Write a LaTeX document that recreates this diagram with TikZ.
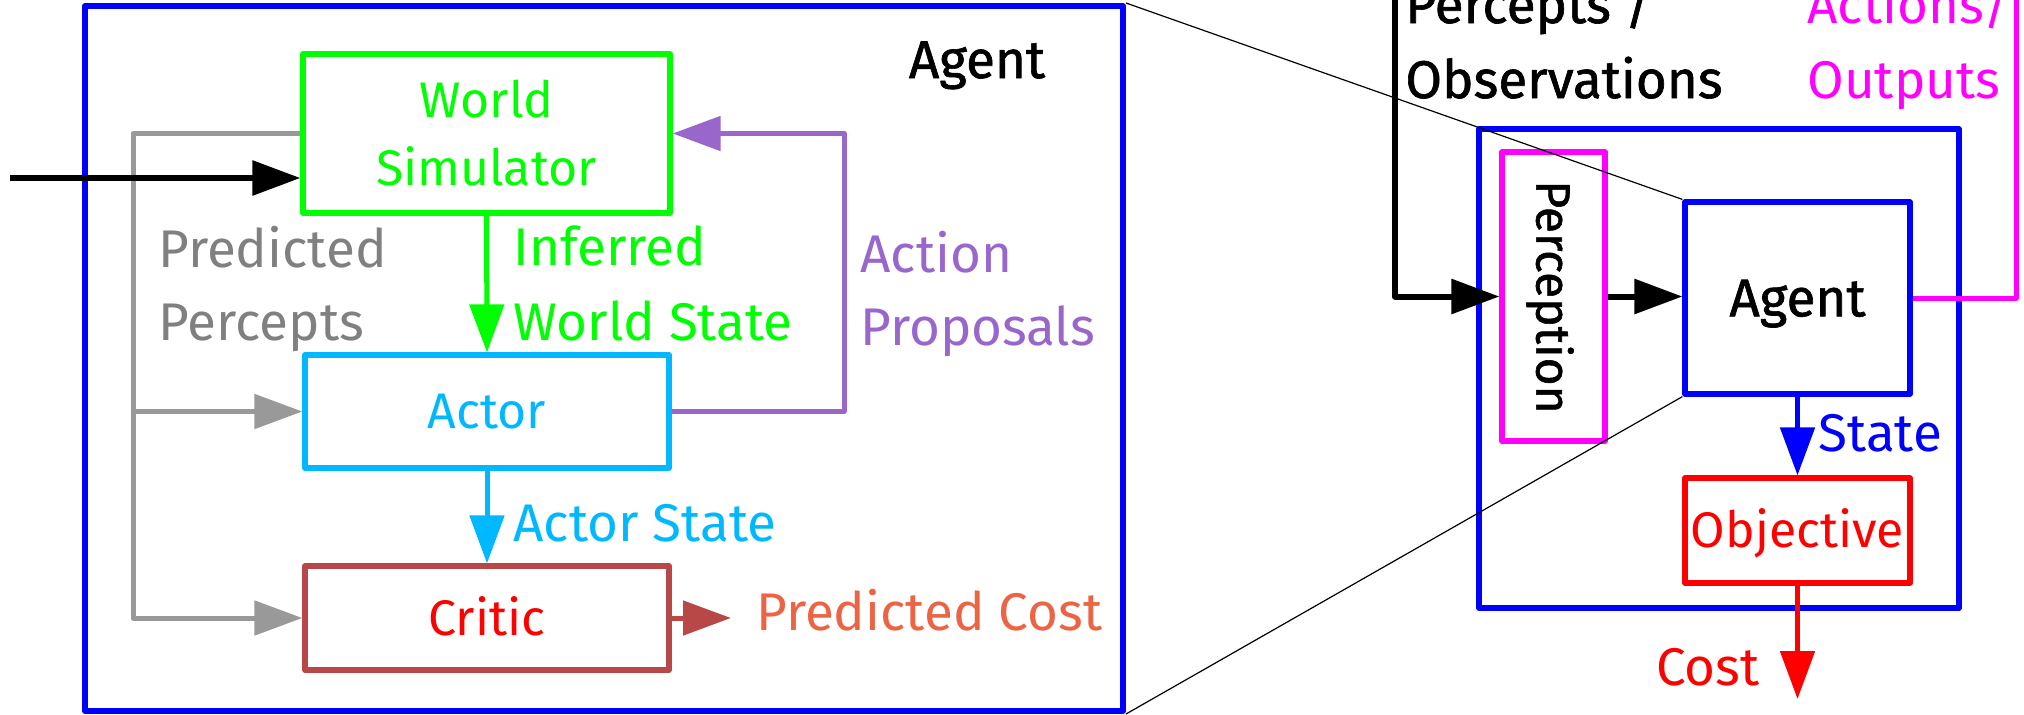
\documentclass[tikz,border=0pt]{standalone}
\usepackage{fontspec}
\setmainfont{Fira Sans}
\newfontfamily\medfont[FakeBold=1.2]{Fira Sans}
\usetikzlibrary{arrows.meta}
\definecolor{cBlue}{RGB}{0,0,255}
\definecolor{cGreen}{RGB}{0,255,0}
\definecolor{cCyan}{RGB}{0,184,255}
\definecolor{cBrown}{RGB}{184,72,72}
\definecolor{cRed}{RGB}{255,0,0}
\definecolor{cOrange}{RGB}{235,100,68}
\definecolor{cGrayL}{RGB}{153,153,153}
\definecolor{cGrayT}{RGB}{128,128,128}
\definecolor{cPurple}{RGB}{153,102,204}
\definecolor{cMagenta}{RGB}{255,0,255}
\newcommand\lblfont{\fontsize{26.5}{34}\selectfont}
\newcommand\boxfont{\fontsize{25}{34}\selectfont}
\begin{document}
\begin{tikzpicture}[x=0.5pt,y=-0.5pt,
  box/.style={draw=#1, line width=2.6pt, inner sep=0pt, font=\boxfont, line join=round},
  capc/.style={text height=#1, text depth=0pt},
  lbl/.style={inner sep=0pt, font=\lblfont},
  arr/.style={line width=2.5pt, line join=round, -{Triangle[length=24pt,width=17pt]}},
  thin/.style={line width=0.6pt, black}]
\fill[white] (0,0) rectangle (2024,714);
\useasboundingbox (0,0) rectangle (2024,714);
% left (zoomed) agent
\node[box=cBlue, line width=3pt, minimum width=519pt, minimum height=352.5pt] (L) at (604,358.5) {};
\node[box=cGreen, text=cGreen, align=center, minimum width=183.5pt, minimum height=79.5pt] (WS) at (486.5,133.5) {World\\Simulator};
\node[box=cCyan, text=cCyan, minimum width=182pt, minimum height=56.5pt, capc=17.3pt] (Actor) at (487,411.5) {Actor};
\node[box=cBrown, text=cRed, minimum width=182pt, minimum height=52pt, capc=17.3pt] (Critic) at (487,618) {Critic};
% right agent
\node[box=cBlue, minimum width=240pt, minimum height=239.5pt] (R) at (1719,368.5) {};
\node[box=cMagenta, minimum width=51.5pt, minimum height=144.5pt] (Perc) at (1553.5,296.5) {};
\node[inner sep=0pt, font=\medfont\fontsize{24}{30}\selectfont, rotate=-90, capc=16.6pt] (PercT) at (1553,297) {Perception};
\node[box=cBlue, minimum width=112.5pt, minimum height=96pt, font=\medfont\lblfont, capc=18.3pt] (Ag) at (1797.5,298) {Agent};
\node[box=cRed, text=cRed, minimum width=112.5pt, minimum height=52.5pt, capc=17.3pt] (Obj) at (1797.5,530.5) {Objective};
% zoom lines
\draw[thin] (L.north east) -- (Ag.north west);
\draw[thin] (L.south east) -- (Ag.south west);
% left connectors
\coordinate (g1) at (133,133.5);
\coordinate (g2) at (133,618);
\draw[arr, cGrayL] (WS.west) -- (g1) -- (g2) -- (Critic.west);
\draw[arr, cGrayL] (Actor.west -| g1) -- (Actor.west);
\coordinate (in) at (10,178);
\draw[arr, black, line width=3pt] (in) -- (in -| WS.west);
\draw[arr, cGreen] (WS.south) -- (Actor.north);
\coordinate (pr) at (844,133.5);
\draw[arr, cPurple] (Actor.east) -| (pr) -- (WS.east);
\draw[arr, cCyan] (Actor.south) -- (Critic.north);
\coordinate (pc) at (731,618);
\draw[arr, cBrown] (Critic.east) -- (pc);
% right connectors
\coordinate (obs) at (1395,-10);
\draw[arr, black, line width=3pt] (obs) |- (Perc.west);
\draw[arr, black, line width=3pt] (Perc.east) -- (Perc.east -| Ag.west);
\coordinate (out) at (2016,-10);
\draw[line width=2.5pt, cMagenta, line join=round] (Ag.east) -| (out);
\draw[arr, cBlue] (Ag.south) -- (Obj.north);
\coordinate (cost) at (1797.5,699);
\draw[arr, cRed] (Obj.south) -- (cost);
% labels
\node[lbl, anchor=base, font=\medfont\lblfont] (agL) at (977,78) {Agent};
\node[lbl, anchor=base west, text=cGrayT] (pp1) at (158,267) {Predicted};
\node[lbl, anchor=base west, text=cGrayT] (pp2) at (158,340) {Percepts};
\node[lbl, anchor=base west, text=cGreen] (iw1) at (513,265) {Inferred};
\node[lbl, anchor=base west, text=cGreen] (iw2) at (513,340) {World State};
\node[lbl, anchor=base west, text=cPurple] (ap1) at (860,272) {Action};
\node[lbl, anchor=base west, text=cPurple] (ap2) at (860,345) {Proposals};
\node[lbl, anchor=base west, text=cCyan] (as) at (513,541) {Actor State};
\node[lbl, anchor=base west, text=cOrange] (pcl) at (756,630) {Predicted Cost};
\node[lbl, anchor=base west, font=\medfont\lblfont] (po1) at (1405,23) {Percepts /};
\node[lbl, anchor=base west, font=\medfont\lblfont] (po2) at (1405,98) {Observations};
\node[lbl, anchor=base west, text=cMagenta] (ao1) at (1807,23) {Actions/};
\node[lbl, anchor=base west, text=cMagenta] (ao2) at (1807,98) {Outputs};
\node[lbl, anchor=base west, text=cBlue] (st) at (1818,451) {State};
\node[lbl, anchor=base east, text=cRed] (co) at (1760,685) {Cost};
\end{tikzpicture}
\end{document}
